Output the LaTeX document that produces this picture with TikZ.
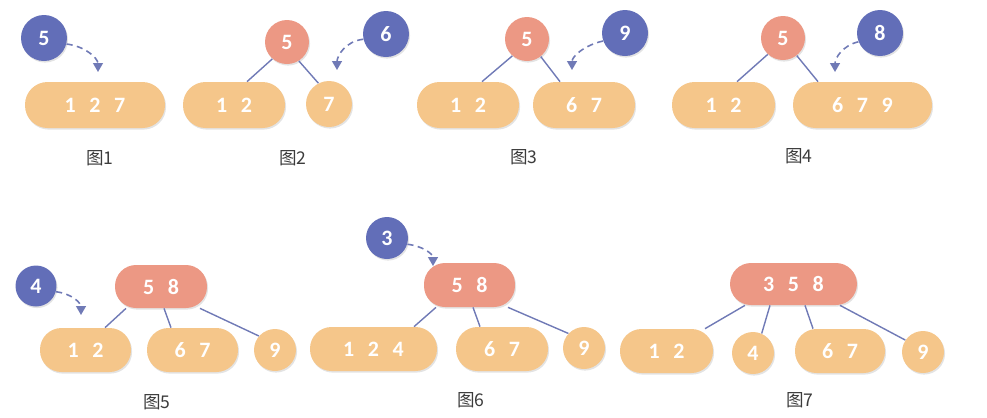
\documentclass[tikz,border=0pt]{standalone}
\usepackage{fontspec}
\newfontfamily\numfont{Carlito}
\newfontfamily\cjkfont{Noto Sans CJK SC}
\usetikzlibrary{arrows.meta,shadows}
\definecolor{orangef}{RGB}{245,198,138}
\definecolor{redf}{RGB}{236,152,132}
\definecolor{bluef}{RGB}{98,110,184}
\definecolor{edgec}{RGB}{112,122,182}
\definecolor{labc}{RGB}{60,60,60}
\newcommand\dgap{\hspace{0.62em}}
\tikzset{
 base/.style={text=white, font=\numfont\bfseries\fontsize{12.5}{14}\selectfont, inner sep=0pt,
   drop shadow={opacity=0.22,shadow xshift=0.6pt,shadow yshift=-0.9pt}},
 pill/.style={base, fill=orangef, rectangle, rounded corners=0.45cm, minimum height=0.92cm},
 bpill/.style={base, fill=orangef, rectangle, rounded corners=0.43cm, minimum height=0.88cm},
 rpill/.style={base, fill=redf, rectangle, rounded corners=0.42cm, minimum height=0.86cm},
 ocirc/.style={base, fill=orangef, circle},
 rcirc/.style={base, fill=redf, circle, minimum size=0.88cm},
 bcirc/.style={base, fill=bluef, circle, minimum size=0.92cm},
 edge/.style={draw=edgec, line width=0.8pt},
 ins/.style={draw=edgec, line width=0.9pt, dash pattern=on 3.5pt off 2.5pt, -{Triangle[length=5pt,width=5.5pt]}},
 figlabel/.style={text=labc, font=\cjkfont\fontsize{10}{12}\selectfont, inner sep=0pt}
}
\begin{document}
\begin{tikzpicture}[x=0.02cm,y=-0.02cm]
\useasboundingbox (0,0) rectangle (987,417);
% ---------- Figure 1
\node[pill, minimum width=2.8cm] (p1) at (95,105) {1\dgap2\dgap7};
\node[bcirc] (b1) at (44,38) {5};
\coordinate (t1) at (98,72);
\draw[ins] (b1.345) .. controls +(18,2) and +(0,-14) .. (t1);
\node[figlabel] (l1) at (100,158) {图1};
% ---------- Figure 2
\node[rcirc] (r2) at (287,42) {5};
\node[pill, minimum width=2.04cm] (p2a) at (234,105) {1\dgap2};
\node[ocirc, minimum size=0.92cm] (p2b) at (329,104) {7};
\node[bcirc] (b2) at (386,34) {6};
\coordinate (t2) at (337,70);
\draw[edge] (r2.229) -- ([xshift=0.26cm]p2a.north);
\draw[edge] (r2.302) -- (p2b.117);
\draw[ins] (b2.193) .. controls +(-18,2) and +(0,-14) .. (t2);
\node[figlabel] (l2) at (293,158) {图2};
% ---------- Figure 3
\node[rcirc] (r3) at (527,39) {5};
\node[pill, minimum width=2.04cm] (p3a) at (468,105) {1\dgap2};
\node[pill, minimum width=2.04cm] (p3b) at (584,105) {6\dgap7};
\node[bcirc] (b3) at (625,33) {9};
\coordinate (t3) at (572,70);
\draw[edge] (r3.229) -- ([xshift=0.28cm]p3a.north);
\draw[edge] (r3.308) -- ([xshift=-0.48cm]p3b.north);
\draw[ins] (b3.200) .. controls +(-18,4) and +(0,-14) .. (t3);
\node[figlabel] (l3) at (524,157) {图3};
% ---------- Figure 4
\node[rcirc] (r4) at (783,38) {5};
\node[pill, minimum width=2.06cm] (p4a) at (723.5,105) {1\dgap2};
\node[pill, minimum width=2.78cm] (p4b) at (862.5,105) {6\dgap7\dgap9};
\node[bcirc] (b4) at (880,33) {8};
\coordinate (t4) at (835,72);
\draw[edge] (r4.227) -- ([xshift=0.27cm]p4a.north);
\draw[edge] (r4.308) -- ([xshift=-0.89cm]p4b.north);
\draw[ins] (b4.202) .. controls +(-16,4) and +(0,-14) .. (t4);
\node[figlabel] (l4) at (799,156) {图4};
% ---------- Figure 5
\node[rpill, minimum width=1.84cm] (r5) at (161,286.5) {5\dgap8};
\node[bpill, minimum width=1.82cm] (p5a) at (85.5,350) {1\dgap2};
\node[bpill, minimum width=1.82cm] (p5b) at (192.5,350) {6\dgap7};
\node[ocirc, minimum size=0.84cm] (p5c) at (275,350) {9};
\node[bcirc, minimum size=0.82cm] (b5) at (36,286) {4};
\coordinate (t5) at (81,315);
\draw[edge] ([xshift=-0.7cm]r5.south) -- ([xshift=0.39cm]p5a.north);
\draw[edge] ([xshift=0.06cm]r5.south) -- ([xshift=-0.43cm]p5b.north);
\draw[edge] ([xshift=0.78cm]r5.south) -- (p5c.139);
\draw[ins] (b5.344) .. controls +(16,2) and +(0,-12) .. (t5);
\node[figlabel] (l5) at (157,402) {图5};
% ---------- Figure 6
\node[rpill, minimum width=1.82cm, minimum height=0.88cm] (r6) at (469.5,285) {5\dgap8};
\node[bpill, minimum width=2.54cm] (p6a) at (373.5,349) {1\dgap2\dgap4};
\node[bpill, minimum width=1.84cm] (p6b) at (502,349) {6\dgap7};
\node[ocirc, minimum size=0.84cm] (p6c) at (584,348) {9};
\node[bcirc, minimum size=0.84cm] (b6) at (387,238) {3};
\coordinate (t6) at (433,266);
\draw[edge] ([xshift=-0.67cm]r6.south) -- ([xshift=0.81cm]p6a.north);
\draw[edge] ([xshift=0.07cm]r6.south) -- ([xshift=-0.44cm]p6b.north);
\draw[edge] ([xshift=0.77cm]r6.south) -- (p6c.137);
\draw[ins] (b6.343) .. controls +(16,2) and +(0,-12) .. (t6);
\node[figlabel] (l6) at (471,400) {图6};
% ---------- Figure 7
\node[rpill, minimum width=2.54cm, minimum height=0.84cm] (r7) at (793.5,284) {3\dgap5\dgap8};
\node[bpill, minimum width=1.86cm] (p7a) at (666.5,351) {1\dgap2};
\node[ocirc, minimum size=0.84cm] (p7b) at (753,353) {4};
\node[bpill, minimum width=1.8cm] (p7c) at (840,351) {6\dgap7};
\node[ocirc, minimum size=0.84cm] (p7d) at (923,352) {9};
\draw[edge] ([xshift=-0.97cm]r7.south) -- ([xshift=0.77cm]p7a.north);
\draw[edge] ([xshift=-0.47cm]r7.south) -- (p7b.66);
\draw[edge] ([xshift=0.23cm]r7.south) -- ([xshift=-0.54cm]p7c.north);
\draw[edge] ([xshift=0.93cm]r7.south) -- (p7d.146);
\node[figlabel] (l7) at (800,400) {图7};
\end{tikzpicture}
\end{document}
